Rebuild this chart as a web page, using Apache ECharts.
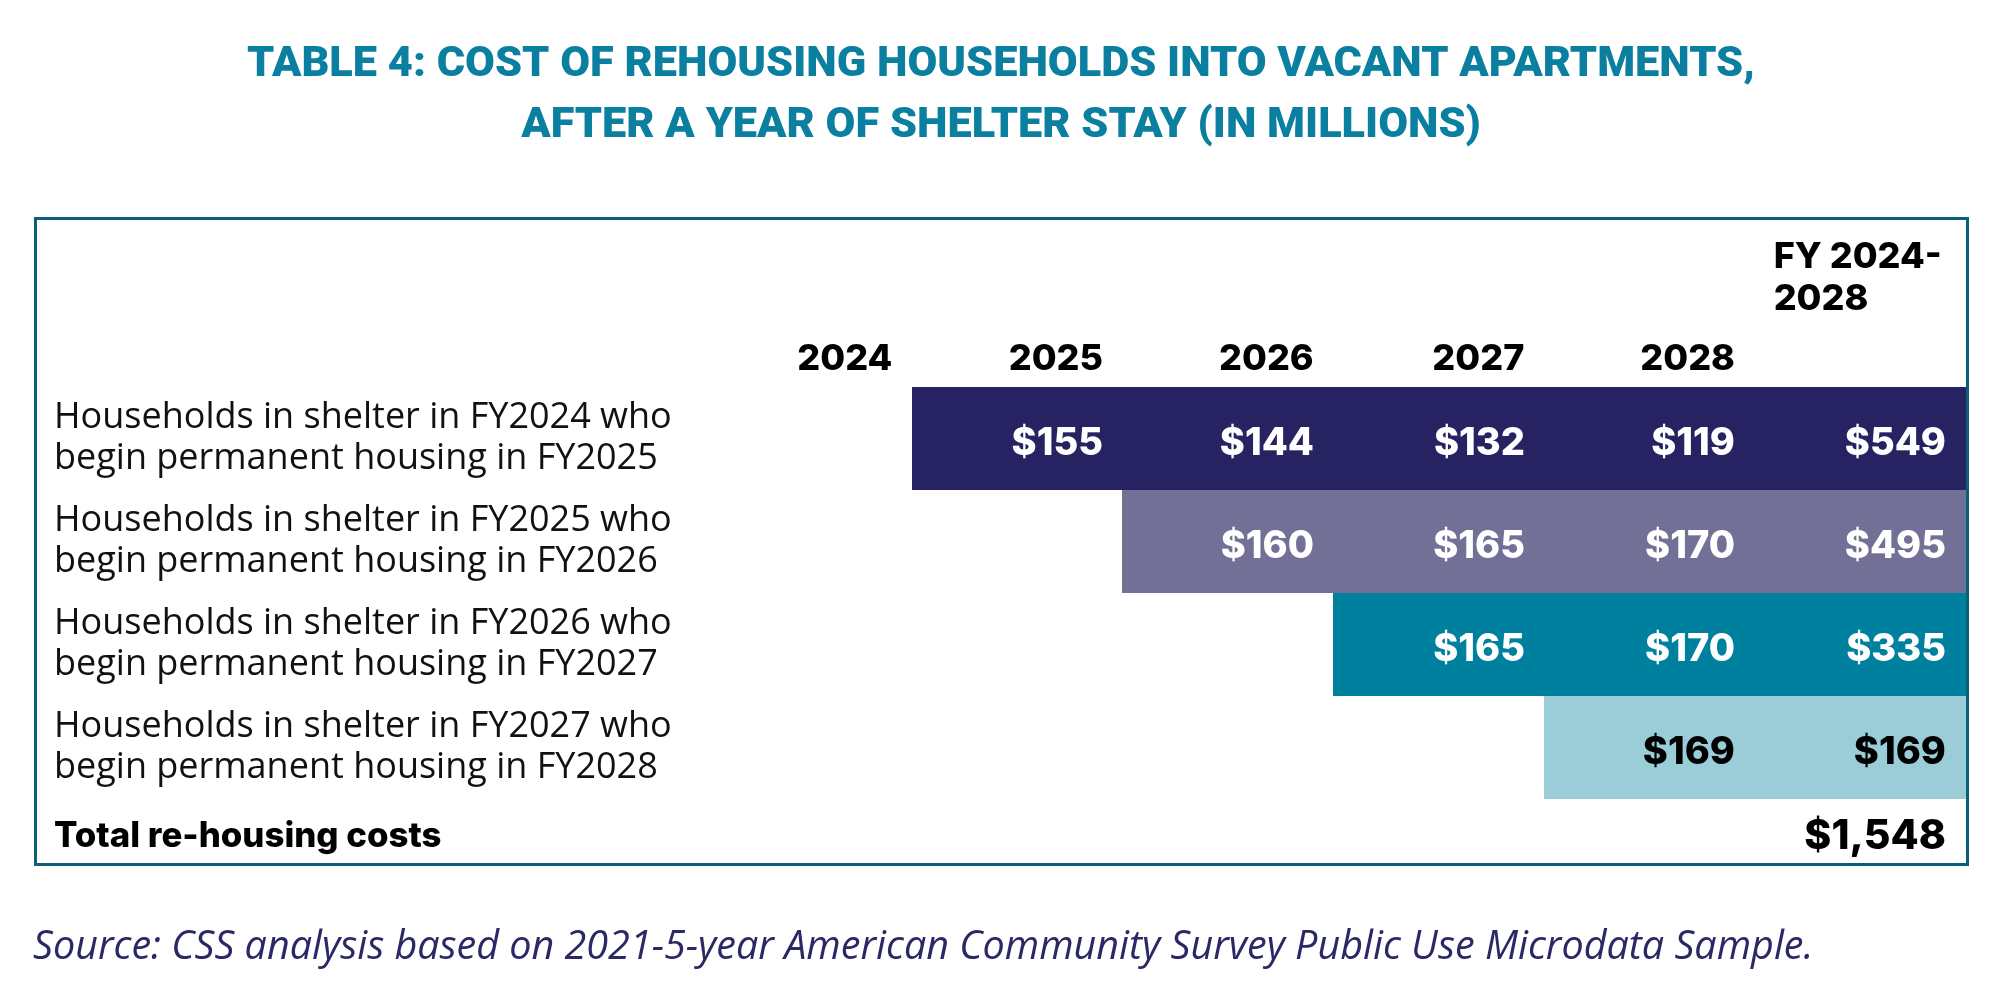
<!DOCTYPE html>
<html>
<head>
<meta charset="utf-8">
<script src="https://cdn.jsdelivr.net/npm/echarts@6/dist/echarts.min.js"></script>
<style>
  html, body { margin: 0; padding: 0; background: #ffffff; }
  #chart { width: 2002px; height: 989px; }
</style>
</head>
<body>
<div id="chart"></div>
<script>
// ---- data ----
const columns = ['2024', '2025', '2026', '2027', '2028', 'FY 2024-\n2028'];
const rowLabels = [
  'Households in shelter in FY2024 who\nbegin permanent housing in FY2025',
  'Households in shelter in FY2025 who\nbegin permanent housing in FY2026',
  'Households in shelter in FY2026 who\nbegin permanent housing in FY2027',
  'Households in shelter in FY2027 who\nbegin permanent housing in FY2028'
];
const cohort2025 = [null, 155, 144, 132, 119, 549];
const cohort2026 = [null, null, 160, 165, 170, 495];
const cohort2027 = [null, null, null, 165, 170, 335];
const cohort2028 = [null, null, null, null, 169, 169];
const totalLabel = ['Total re-housing costs'];
const totalValues = [null, null, null, null, null, 1548];
const titleText = 'TABLE 4: COST OF REHOUSING HOUSEHOLDS INTO VACANT APARTMENTS,\nAFTER A YEAR OF SHELTER STAY (IN MILLIONS)';
const sourceText = 'Source: CSS analysis based on 2021-5-year American Community Survey Public Use Microdata Sample.';

// ---- styles ----
const rowFill = ['#272262', '#737098', '#00809f', '#9bcdd9'];
const rowText = ['#ffffff', '#ffffff', '#ffffff', '#000000'];
const numFont = 'Inter';

const cohorts = [cohort2025, cohort2026, cohort2027, cohort2028];
const cellData = [];
cohorts.forEach((arr, r) => arr.forEach((v, c) => { if (v != null) cellData.push([c, r, v]); }));
const totalData = [];
totalValues.forEach((v, c) => { if (v != null) totalData.push([c, 0, v]); });

const fmt = v => '$' + v.toLocaleString('en-US');

function makeRender(fills, texts, fontSize, dy) {
  return function (params, api) {
    const col = api.value(0), row = api.value(1), val = api.value(2);
    const c = api.coord([col, row]);
    const s = api.size([1, 1]);
    const x0 = Math.round(c[0] - s[0] / 2), y0 = Math.round(c[1] - s[1] / 2);
    const x1 = Math.round(c[0] + s[0] / 2), y1 = Math.round(c[1] + s[1] / 2);
    const children = [];
    if (fills) {
      children.push({
        type: 'rect',
        shape: { x: x0, y: y0, width: x1 - x0 + 1, height: y1 - y0 },
        style: { fill: fills[row] }
      });
    }
    children.push({
      type: 'text',
      style: {
        x: x1 - 19, y: c[1] + dy,
        text: fmt(val),
        align: 'right', verticalAlign: 'middle',
        fill: texts ? texts[row] : '#000000',
        font: '800 ' + fontSize + 'px ' + numFont
      }
    });
    return { type: 'group', children };
  };
}

const chart = echarts.init(document.getElementById('chart'), null, { renderer: 'canvas' });
chart.setOption({
  backgroundColor: '#ffffff',
  animation: false,
  title: {
    text: titleText,
    left: 'center', top: 30,
    textStyle: { fontFamily: 'Roboto', fontWeight: 900, fontSize: 43.3, lineHeight: 61, color: '#0a7fa0' }
  },
  grid: [
    { left: 701, right: 37, top: 387, height: 412 },
    { left: 701, right: 37, top: 799, height: 64 }
  ],
  xAxis: [
    {
      type: 'category', gridIndex: 0, data: columns, position: 'top',
      axisLine: { show: false }, axisTick: { show: false }, splitLine: { show: false },
      axisLabel: {
        interval: 0, margin: 10,
        formatter: (v, i) => i === columns.length - 1
          ? '{fy|' + v.split('\n').join('}\n{fy|') + '}\n{gap| }'
          : '{yr|' + v + '}',
        rich: {
          yr: { width: 172, align: 'right', fontFamily: numFont, fontWeight: 800, fontSize: 36, color: '#000' },
          fy: { width: 172, align: 'left', fontFamily: numFont, fontWeight: 800, fontSize: 36, lineHeight: 42, color: '#000' },
          gap: { width: 172, fontSize: 10, lineHeight: 57 }
        }
      }
    },
    {
      type: 'category', gridIndex: 1, data: columns, show: false
    }
  ],
  yAxis: [
    {
      type: 'category', gridIndex: 0, data: rowLabels, inverse: true,
      axisLine: { show: false }, axisTick: { show: false }, splitLine: { show: false },
      axisLabel: {
        interval: 0, margin: 647, align: 'left',
        fontFamily: 'Open Sans', fontSize: 36, lineHeight: 41, color: '#111111',
        padding: [10, 0, 0, 0]
      }
    },
    {
      type: 'category', gridIndex: 1, data: totalLabel, inverse: true,
      axisLine: { show: false }, axisTick: { show: false }, splitLine: { show: false },
      axisLabel: {
        interval: 0, margin: 647, align: 'left',
        formatter: v => '{sp| }\n{t|' + v + '}',
        rich: {
          sp: { fontSize: 6, lineHeight: 12 },
          t: { fontFamily: numFont, fontWeight: 800, fontSize: 34.8, lineHeight: 40, color: '#000000' }
        }
      }
    }
  ],
  series: [
    {
      type: 'custom', xAxisIndex: 0, yAxisIndex: 0,
      renderItem: makeRender(rowFill, rowText, 38, 5),
      data: cellData, silent: true
    },
    {
      type: 'custom', xAxisIndex: 1, yAxisIndex: 1,
      renderItem: makeRender(null, null, 41, 6),
      data: totalData, silent: true
    }
  ],
  graphic: [
    {
      type: 'rect', left: 33, top: 216,
      shape: { width: 1932, height: 646 },
      style: { fill: 'none', stroke: '#0b6079', lineWidth: 3 },
      z: 100
    },
    {
      type: 'text', left: 33, top: 928,
      style: { text: sourceText, font: 'italic 39.5px "Open Sans"', fill: '#2b2866' }
    }
  ]
});
</script>
</body>
</html>
